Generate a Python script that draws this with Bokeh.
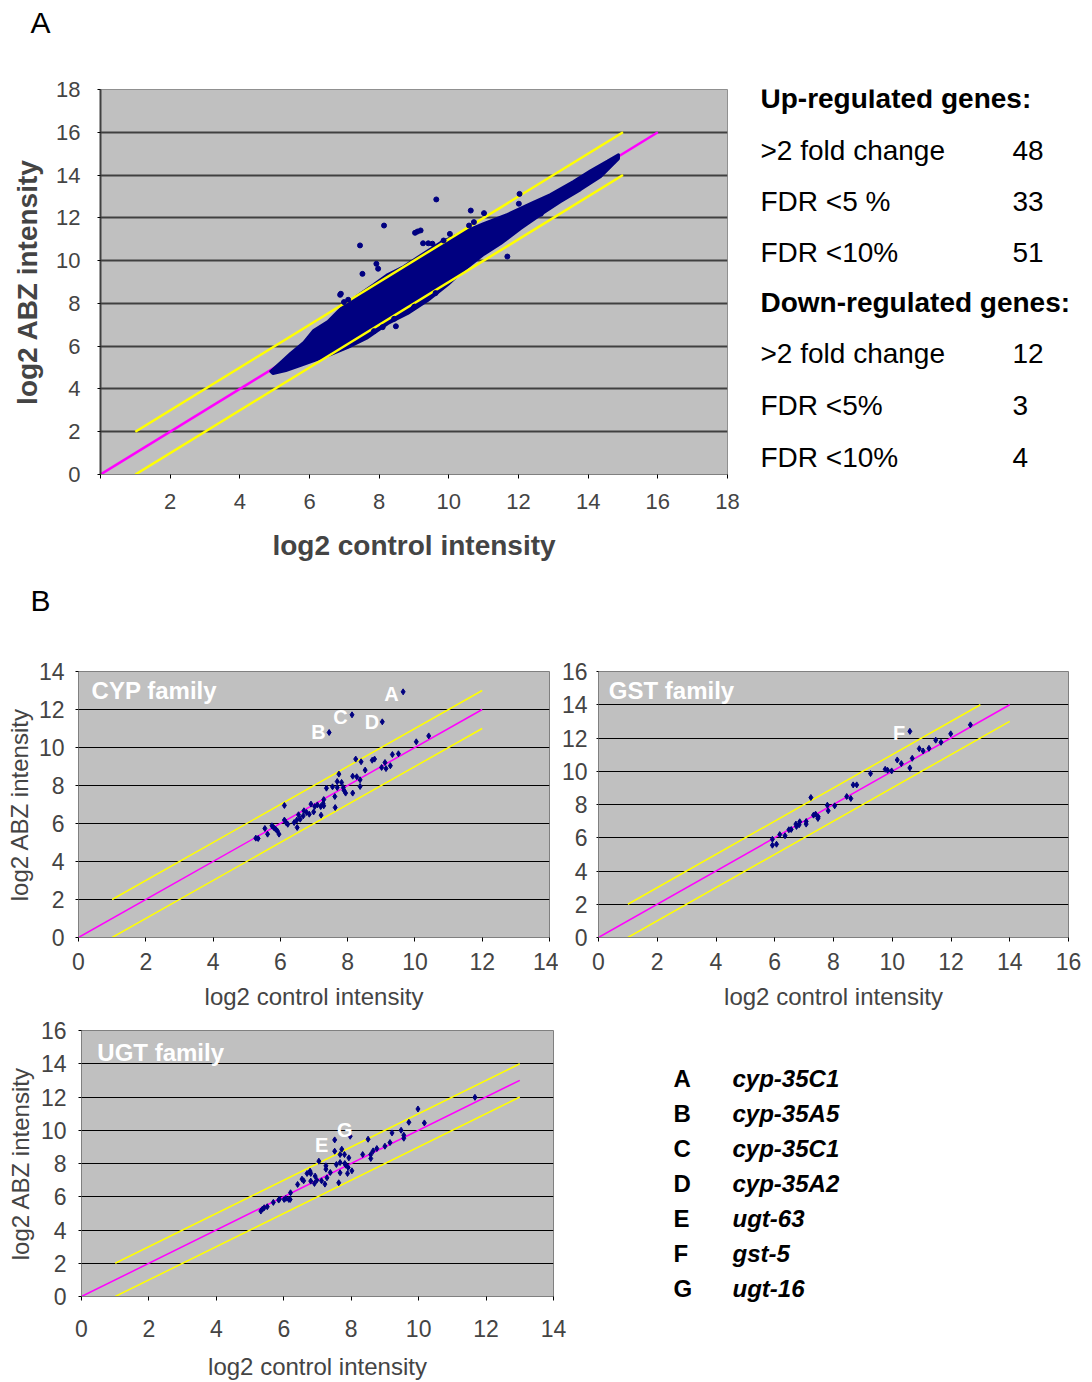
from bokeh.plotting import figure
from bokeh.models import Range1d, FixedTicker
from bokeh.layouts import column, row
from bokeh.embed import file_html
from bokeh.resources import INLINE
from bokeh.core.properties import value

FONT = "Liberation Sans"
NAVY = "#000080"
MAG = "#FF00FF"
YEL = "#FFFF00"
PLOT_BG = "#C0C0C0"

# ---------------- Panel A data ----------------
# outline of the dense cloud of ~all genes
a_cloud_upper_x = [4.89, 5.18, 5.46, 5.84, 6.12, 6.53, 6.90, 7.39, 7.85, 8.25, 8.71, 9.19,
                   9.77, 10.34, 11.00, 11.69, 12.35, 12.92, 13.58, 14.07, 14.56, 14.87]
a_cloud_upper_y = [4.82, 5.24, 5.66, 6.17, 6.73, 7.15, 7.76, 8.37, 8.88, 9.35, 9.72, 10.24,
                   10.85, 11.27, 11.73, 12.16, 12.67, 13.09, 13.70, 14.20, 14.65, 14.95]
a_cloud_lower_x = [14.87, 14.36, 13.78, 13.21, 12.64, 12.06, 11.49, 11.00, 10.34, 9.97, 9.39,
                   8.82, 8.25, 7.67, 7.10, 6.53, 5.75, 5.32, 4.95]
a_cloud_lower_y = [14.77, 13.93, 13.32, 12.76, 12.16, 11.50, 10.80, 10.29, 9.44, 8.88, 8.13,
                   7.53, 7.06, 6.40, 5.94, 5.56, 5.10, 4.86, 4.72]
# isolated genes outside the cloud
a_out_x = [9.64, 8.14, 9.03, 9.10, 9.19, 7.45, 9.26, 9.41, 9.53, 10.03, 9.85, 7.92, 7.97, 7.52,
           6.88, 8.48, 7.85, 8.10, 9.62, 9.02, 7.11, 6.99, 12.03, 10.63, 11.01, 10.72, 10.58,
           12.35, 12.64, 11.68, 11.01, 10.72, 12.01, 8.43, 9.00, 6.90]
a_out_y = [12.86, 11.64, 11.30, 11.36, 11.41, 10.71, 10.81, 10.81, 10.79, 11.25, 10.94, 9.85,
           9.62, 9.38, 8.40, 6.93, 6.70, 6.89, 8.48, 7.85, 8.17, 8.06, 13.12, 12.34, 12.22,
           11.80, 11.64, 12.26, 12.19, 10.19, 10.47, 10.19, 12.66, 7.28, 7.82, 8.45]
a_diag_x, a_diag_y = [0, 16], [0, 16]
a_up_x, a_up_y = [1, 15], [2, 16]
a_lo_x, a_lo_y = [1, 15], [0, 14]
a_ticks = [0, 2, 4, 6, 8, 10, 12, 14, 16, 18]

up_labels = [">2 fold change", "FDR <5 %", "FDR <10%"]
up_counts = ["48", "33", "51"]
down_labels = [">2 fold change", "FDR <5%", "FDR <10%"]
down_counts = ["12", "3", "4"]

# ---------------- Panel B data ----------------
cyp_x = [9.65, 8.13, 9.03, 7.45, 10.41, 10.04, 9.51, 9.33, 8.24, 8.40, 8.80, 8.73, 9.11, 9.27,
         9.01, 9.14, 8.52, 7.74, 8.15, 8.27, 8.37, 7.69, 7.82, 7.37, 7.55, 7.69, 7.87, 7.89,
         7.94, 8.15, 8.37, 7.62, 7.29, 7.27, 7.29, 7.20, 7.10, 7.02, 6.91, 6.70, 6.78, 6.68,
         6.86, 6.99, 7.63, 7.21, 6.54, 6.49, 6.59, 6.41, 6.50, 6.12, 6.12, 6.17, 6.22, 5.80,
         5.86, 5.91, 5.96, 5.54, 5.62, 5.27, 5.34, 5.75]
cyp_y = [12.93, 11.72, 11.35, 10.79, 10.61, 10.30, 9.67, 9.63, 9.39, 9.25, 9.39, 9.33, 9.21,
         9.04, 8.95, 8.89, 8.81, 8.60, 8.49, 8.46, 8.30, 8.21, 8.16, 7.86, 7.93, 7.89, 7.89,
         7.75, 7.60, 7.60, 7.95, 7.42, 7.26, 7.05, 6.93, 6.89, 6.98, 6.89, 7.02, 6.67, 6.58,
         6.40, 6.49, 6.61, 6.84, 6.44, 6.46, 6.18, 6.23, 6.05, 5.79, 6.95, 6.18, 6.05, 5.96,
         5.79, 5.70, 5.61, 5.44, 5.74, 5.44, 5.23, 5.21, 5.88]
cyp_lab = ["A", "B", "C", "D"]
cyp_lab_x = [9.30, 7.13, 7.79, 8.72]
cyp_lab_y = [12.81, 10.79, 11.58, 11.35]

gst_x = [10.60, 12.66, 11.99, 11.48, 11.66, 11.25, 10.92, 11.05, 10.68, 10.17, 10.31, 10.60,
         9.76, 9.84, 9.98, 9.26, 8.67, 8.79, 8.45, 8.59, 7.23, 7.79, 8.04, 7.82, 7.32, 7.39,
         7.48, 7.47, 7.07, 7.07, 6.85, 6.83, 6.72, 6.74, 6.56, 6.48, 6.35, 6.17, 5.92, 5.92, 6.06]
gst_y = [12.40, 12.79, 12.25, 11.87, 11.74, 11.38, 11.36, 11.22, 10.78, 10.68, 10.46, 10.20,
         10.12, 10.06, 10.02, 9.86, 9.18, 9.18, 8.48, 8.36, 8.42, 7.96, 7.92, 7.62, 7.36, 7.42,
         7.26, 7.16, 6.98, 6.82, 6.96, 6.78, 6.82, 6.68, 6.50, 6.48, 6.12, 6.19, 5.91, 5.55, 5.61]
gst_lab = ["F"]
gst_lab_x = [10.23]
gst_lab_y = [12.32]

ugt_x = [11.67, 9.98, 9.71, 10.17, 9.48, 9.21, 9.56, 9.56, 9.15, 9.00, 8.76, 8.65, 8.58, 8.58,
         8.34, 8.50, 7.97, 7.51, 7.51, 7.72, 7.67, 7.80, 7.93, 7.04, 7.56, 7.67, 7.81, 7.84,
         7.91, 8.02, 7.25, 7.25, 7.38, 7.67, 7.89, 6.78, 6.80, 6.69, 6.93, 6.98, 7.12, 7.28,
         6.80, 6.91, 7.22, 7.63, 6.54, 6.59, 6.41, 6.20, 6.06, 6.01, 6.15, 6.19, 5.87, 5.85,
         5.69, 5.51, 5.42, 5.32, 5.37]
ugt_y = [11.98, 11.28, 10.48, 10.44, 10.00, 9.84, 9.70, 9.52, 9.26, 9.04, 8.90, 8.76, 8.54,
         8.30, 8.54, 9.46, 9.64, 9.42, 8.74, 8.86, 8.54, 8.54, 8.34, 8.14, 7.94, 8.06, 8.00,
         7.90, 7.76, 7.56, 7.86, 7.66, 7.46, 7.44, 7.40, 7.54, 7.40, 7.40, 7.24, 7.00, 6.96,
         7.14, 6.94, 6.80, 6.76, 6.84, 7.06, 6.96, 6.74, 6.24, 5.90, 5.84, 5.84, 5.84, 5.86,
         5.80, 5.66, 5.40, 5.34, 5.14, 5.26]
ugt_lab = ["E", "G"]
ugt_lab_x = [7.12, 7.81]
ugt_lab_y = [9.10, 10.04]

cyp_ref = ([0, 12], [0, 12]); cyp_up = ([1, 12], [2, 13]); cyp_lo = ([1, 12], [0, 11])
gst_ref = ([0, 14], [0, 14]); gst_up = ([1, 13], [2, 14]); gst_lo = ([1, 14], [0, 13])
ugt_ref = ([0, 13], [0, 13]); ugt_up = ([1, 13], [2, 14]); ugt_lo = ([1, 13], [0, 12])

gene_letters = ["A", "B", "C", "D", "E", "F", "G"]
gene_names = ["cyp-35C1", "cyp-35A5", "cyp-35C1", "cyp-35A2", "ugt-63", "gst-5", "ugt-16"]


def text_fig(w, h, yr=None):
    yr = yr if yr is not None else (h, 0)
    p = figure(width=w, height=h, x_range=Range1d(0, w), y_range=Range1d(*yr),
               min_border=0, toolbar_location=None, output_backend="svg",
               x_axis_location=None, y_axis_location=None, outline_line_color=None)
    p.grid.visible = False
    return p


def put_text(p, x, y, txt, size, style="normal", color="black", align="left"):
    p.text(x=[x], y=[y], text=[txt], text_font=value(FONT), text_font_size=size,
           text_font_style=style, text_color=color, text_align=align, text_baseline="middle")


# ---------------- Panel A ----------------
headA = text_fig(1092, 70)
put_text(headA, 40, 22, "A", "30px", align="center")

pA = figure(width=740, height=510, x_range=Range1d(0, 18), y_range=Range1d(0, 18),
            min_border_left=100, min_border_right=13, min_border_top=19, min_border_bottom=106,
            toolbar_location=None, output_backend="svg")
pA.background_fill_color = PLOT_BG
pA.outline_line_color = "#909090"
pA.xgrid.visible = False
pA.ygrid.grid_line_color = "#404040"
pA.ygrid.grid_line_width = 2
pA.line(a_diag_x, a_diag_y, line_color=MAG, line_width=2.5)
pA.patch(a_cloud_upper_x + a_cloud_lower_x, a_cloud_upper_y + a_cloud_lower_y,
         fill_color=NAVY, line_color=NAVY, line_width=3, line_join="round")
pA.line(a_up_x, a_up_y, line_color=YEL, line_width=2.5)
pA.line(a_lo_x, a_lo_y, line_color=YEL, line_width=2.5)
pA.scatter(a_out_x, a_out_y, marker="circle", size=5, color=NAVY)

for ax in (pA.xaxis[0], pA.yaxis[0]):
    ax.ticker = FixedTicker(ticks=a_ticks)
    ax.major_label_text_font = FONT
    ax.major_label_text_font_size = "22px"
    ax.axis_label_text_font = FONT
    ax.axis_label_text_font_size = "28px"
    ax.axis_label_text_font_style = "bold"
    ax.major_tick_in = 0
    ax.minor_tick_line_color = None
pA.xaxis.major_label_overrides = {0: ""}
pA.xaxis.axis_label = "log2 control intensity"
pA.yaxis.axis_label = "log2 ABZ intensity"
pA.xaxis.major_tick_out = 4
pA.xaxis.major_label_standoff = 15
pA.xaxis.axis_label_standoff = 18
pA.xaxis.axis_line_color = "#808080"
pA.yaxis.major_tick_out = 3
pA.yaxis.major_label_standoff = 17
pA.yaxis.axis_label_standoff = 10
pA.yaxis.axis_line_color = "#404040"
pA.yaxis.axis_line_width = 2

# right-hand summary (frame aligned with panel A frame: page y 89..474)
txtA = text_fig(352, 510, yr=(474, 89))
put_text(txtA, 20, 98, "Up-regulated genes:", "28px", "bold")
for i, (lab, cnt) in enumerate(zip(up_labels, up_counts)):
    put_text(txtA, 20, 150 + 51 * i, lab, "28px")
    put_text(txtA, 272, 150 + 51 * i, cnt, "28px")
put_text(txtA, 20, 302, "Down-regulated genes:", "28px", "bold")
for i, (lab, cnt) in enumerate(zip(down_labels, down_counts)):
    put_text(txtA, 20, 353 + 52 * i, lab, "28px")
    put_text(txtA, 272, 353 + 52 * i, cnt, "28px")

# ---------------- Panel B ----------------
headB = text_fig(1092, 70)
put_text(headB, 40, 20, "B", "30px", align="center")


def family_panel(w, h, xmax, ymax, borders, xs, ys, ref, up, lo, labs, lx, ly, title, tx, ty,
                 ytitle=True, ylab_gap=(3, 11), ytitle_standoff=4, xlab_standoff=11,
                 xtitle_standoff=10):
    bl, br, bt, bb = borders
    p = figure(width=w, height=h, x_range=Range1d(0, xmax), y_range=Range1d(0, ymax),
               min_border_left=bl, min_border_right=br, min_border_top=bt, min_border_bottom=bb,
               toolbar_location=None, output_backend="svg")
    p.background_fill_color = PLOT_BG
    p.outline_line_color = "#808080"
    p.xgrid.visible = False
    p.ygrid.grid_line_color = "black"
    p.ygrid.grid_line_width = 1
    p.line(ref[0], ref[1], line_color=MAG, line_width=1.5)
    p.line(up[0], up[1], line_color=YEL, line_width=1.5)
    p.line(lo[0], lo[1], line_color=YEL, line_width=1.5)
    p.scatter(xs, ys, marker="diamond", size=6, color=NAVY)
    p.text(x=lx, y=ly, text=labs, text_font=value(FONT), text_font_size="20px",
           text_font_style="bold", text_color="white", text_align="center", text_baseline="middle")
    p.text(x=[tx], y=[ty], text=[title], text_font=value(FONT), text_font_size="24px",
           text_font_style="bold", text_color="white", text_align="left", text_baseline="middle")
    p.xaxis.ticker = FixedTicker(ticks=list(range(0, xmax + 1, 2)))
    p.yaxis.ticker = FixedTicker(ticks=list(range(0, ymax + 1, 2)))
    for ax in (p.xaxis[0], p.yaxis[0]):
        ax.major_label_text_font = FONT
        ax.major_label_text_font_size = "23px"
        ax.axis_label_text_font = FONT
        ax.axis_label_text_font_size = "24px"
        ax.axis_label_text_font_style = "normal"
        ax.major_tick_in = 0
        ax.minor_tick_line_color = None
        ax.axis_line_color = "#808080"
    p.xaxis.major_tick_out = 4
    p.xaxis.major_label_standoff = xlab_standoff
    p.xaxis.axis_label = "log2 control intensity"
    p.xaxis.axis_label_standoff = xtitle_standoff
    p.yaxis.major_tick_out = ylab_gap[0]
    p.yaxis.major_label_standoff = ylab_gap[1]
    if ytitle:
        p.yaxis.axis_label = "log2 ABZ intensity"
        p.yaxis.axis_label_standoff = ytitle_standoff
    return p


pCYP = family_panel(558, 365, 14, 14, (78, 9, 21, 78), cyp_x, cyp_y, cyp_ref, cyp_up, cyp_lo,
                    cyp_lab, cyp_lab_x, cyp_lab_y, "CYP family", 0.39, 12.98,
                    ylab_gap=(3, 11), ytitle_standoff=3, xlab_standoff=11, xtitle_standoff=10)
pGST = family_panel(534, 365, 16, 16, (39, 24, 21, 78), gst_x, gst_y, gst_ref, gst_up, gst_lo,
                    gst_lab, gst_lab_x, gst_lab_y, "GST family", 0.35, 14.83,
                    ytitle=False, ylab_gap=(2, 9), xlab_standoff=11, xtitle_standoff=10)
pUGT = family_panel(567, 367, 14, 16, (81, 14, 15, 85), ugt_x, ugt_y, ugt_ref, ugt_up, ugt_lo,
                    ugt_lab, ugt_lab_x, ugt_lab_y, "UGT family", 0.47, 14.7,
                    ylab_gap=(3, 12), ytitle_standoff=4, xlab_standoff=19, xtitle_standoff=13)

# gene key (own column so that its frame spans page y 1015..1382)
legend = text_fig(525, 367, yr=(1382, 1015))
for i, (g, n) in enumerate(zip(gene_letters, gene_names)):
    put_text(legend, 106, 1078 + 35 * i, g, "24px", "bold")
    put_text(legend, 165, 1078 + 35 * i, n, "24px", "bold italic")

layout = column(
    headA,
    row(pA, txtA),
    headB,
    row(pCYP, pGST),
    row(pUGT, column(legend)),
)

open("out.html", "w").write(file_html(layout, INLINE))
